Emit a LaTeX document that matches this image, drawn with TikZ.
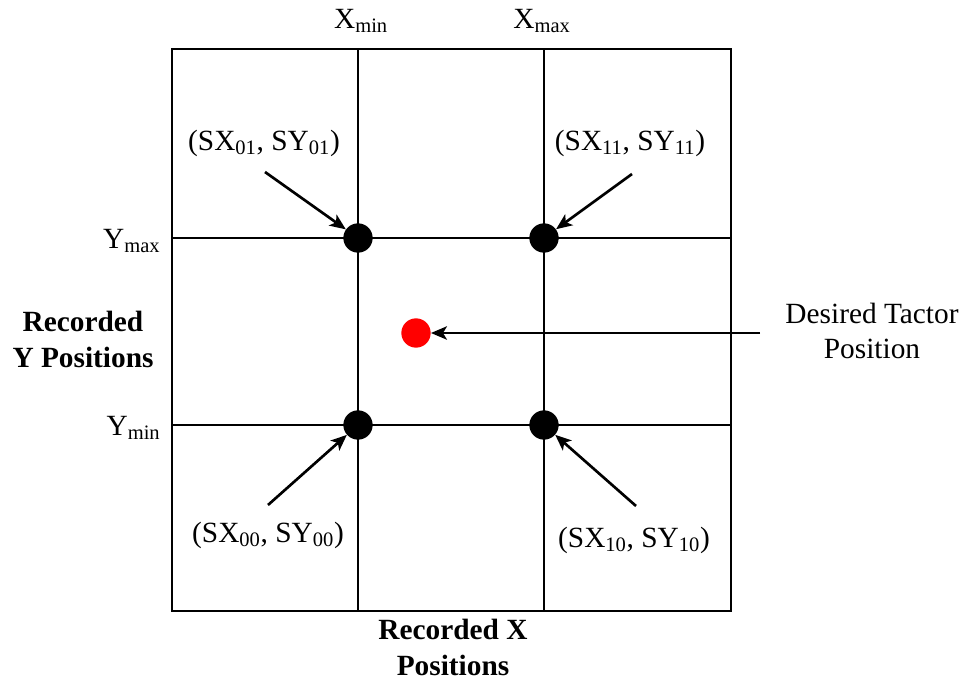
\documentclass[tikz,border=0pt]{standalone}
\usepackage{fontspec}
\setmainfont{Liberation Serif}
\usetikzlibrary{arrows.meta}

\begin{document}
\begin{tikzpicture}[
x=0.75pt, y=-0.75pt,
grid/.style={line width=1.5pt},
dot/.style={circle, fill=black, inner sep=0pt, minimum size=22pt},
reddot/.style={dot, fill=red},
lbl/.style={font=\fontsize{22}{26}\selectfont, inner sep=1pt},
axis/.style={font=\fontsize{22}{27}\selectfont\bfseries, align=center},
arrow/.style={-{Stealth[length=12pt, width=10pt, inset=3pt]}, line width=2pt}
]
\useasboundingbox (0,0) rectangle (969,680);
% grid
\draw[grid] (172,49) rectangle (731,611);
\draw[grid] (358,49) -- (358,611);
\draw[grid] (544,49) -- (544,611);
\draw[grid] (172,238) -- (731,238);
\draw[grid] (172,425) -- (731,425);
\draw[grid] (544,333) -- (760,333);
% axis labels
\node[lbl] (xmin) at (361,21) {X\textsubscript{min}};
\node[lbl] (xmax) at (542,21) {X\textsubscript{max}};
\node[lbl, anchor=east] (ymax) at (162,241) {Y\textsubscript{max}};
\node[lbl, anchor=east] (ymin) at (162,428) {Y\textsubscript{min}};
\node[axis] (ytitle) at (83,339) {Recorded\\Y Positions};
\node[axis] (xtitle) at (453,647) {Recorded X\\Positions};
% points
\node[dot] (d01) at (358,238) {};
\node[dot] (d11) at (544,238) {};
\node[dot] (d00) at (358,425) {};
\node[dot] (d10) at (544,425) {};
\node[reddot] (target) at (416,333) {};
% point labels
\node[lbl] (l01) at (264,143) {(SX\textsubscript{01}, SY\textsubscript{01})};
\node[lbl] (l11) at (630,143) {(SX\textsubscript{11}, SY\textsubscript{11})};
\node[lbl] (l00) at (268,535) {(SX\textsubscript{00}, SY\textsubscript{00})};
\node[lbl] (l10) at (634,540) {(SX\textsubscript{10}, SY\textsubscript{10})};
\node[lbl, align=center] (desired) at (872,331) {Desired Tactor\\Position};
% arrows
\coordinate (t01) at (265,172);
\coordinate (t11) at (632,174);
\coordinate (t00) at (268,505);
\coordinate (t10) at (636,506);
\coordinate (tdes) at (760,333);
\draw[arrow] (t01) -- (d01);
\draw[arrow] (t11) -- (d11);
\draw[arrow] (t00) -- (d00);
\draw[arrow] (t10) -- (d10);
\draw[arrow] (tdes) -- (target);
\end{tikzpicture}
\end{document}
